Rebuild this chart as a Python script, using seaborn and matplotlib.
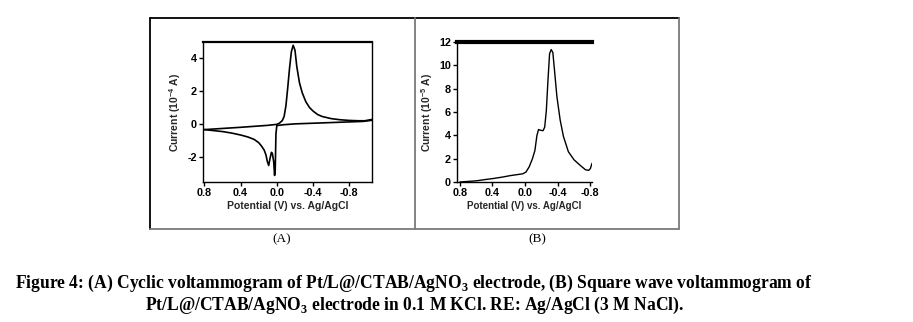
import numpy as np
import pandas as pd
import matplotlib
matplotlib.use("Agg")
import matplotlib.pyplot as plt
from matplotlib.lines import Line2D
import seaborn as sns

# ---------------- data ----------------
# (A) cyclic voltammogram: forward (anodic) sweep
cv_fwd_E = [0.80, 0.60, 0.40, 0.20, 0.10, 0.00, -0.03, -0.06, -0.08, -0.10, -0.12,
            -0.14, -0.16, -0.18, -0.20, -0.22, -0.25, -0.28, -0.32, -0.36, -0.40,
            -0.45, -0.50, -0.60, -0.70, -0.80, -0.90, -0.97, -1.05]
cv_fwd_I = [-0.35, -0.28, -0.21, -0.13, -0.09, -0.03, 0.05, 0.20, 0.45, 1.10, 2.20,
            3.40, 4.40, 4.80, 4.50, 3.50, 2.50, 1.90, 1.35, 1.00, 0.78,
            0.57, 0.45, 0.32, 0.25, 0.21, 0.19, 0.19, 0.27]
# (A) reverse (cathodic) sweep
cv_rev_E = [-1.05, -0.95, -0.80, -0.60, -0.40, -0.20, -0.08, 0.00, 0.010, 0.018,
            0.025, 0.035, 0.050, 0.060, 0.075, 0.090, 0.105, 0.12, 0.14, 0.17,
            0.20, 0.25, 0.32, 0.40, 0.50, 0.60, 0.70, 0.80]
cv_rev_I = [0.22, 0.15, 0.12, 0.08, 0.04, 0.00, -0.05, -0.10, -0.60, -2.80,
            -3.15, -2.30, -1.80, -1.74, -2.10, -2.54, -2.30, -1.90, -1.60, -1.35,
            -1.15, -0.95, -0.80, -0.68, -0.56, -0.47, -0.41, -0.35]

# (B) square wave voltammogram
swv_E = [0.80, 0.70, 0.60, 0.50, 0.39, 0.28, 0.18, 0.10, 0.03, -0.01, -0.05,
         -0.09, -0.12, -0.145, -0.165, -0.19, -0.22, -0.24, -0.26, -0.28, -0.30,
         -0.32, -0.34, -0.36, -0.39, -0.43, -0.47, -0.53, -0.60, -0.68, -0.74,
         -0.78, -0.80, -0.82]
swv_I = [0.00, 0.05, 0.10, 0.20, 0.30, 0.42, 0.55, 0.63, 0.70, 0.85, 1.30,
         2.00, 2.70, 4.00, 4.50, 4.43, 4.40, 4.70, 6.10, 8.70, 11.00,
         11.35, 11.10, 9.60, 7.30, 5.30, 3.90, 2.60, 1.90, 1.40, 1.05,
         1.00, 1.15, 1.60]

x_ticks = [0.8, 0.4, 0.0, -0.4, -0.8]
x_ticklabels = ["0.8", "0.4", "0.0", "-0.4", "-0.8"]
yA_ticks = [-2, 0, 2, 4]
yB_ticks = [0, 2, 4, 6, 8, 10, 12]

xlabel = "Potential (V) vs. Ag/AgCl"
ylabel_A = r"Current (10$^{\mathsf{-4}}$ A)"
ylabel_B = r"Current (10$^{\mathsf{-5}}$ A)"
panel_A = "(A)"
panel_B = "(B)"
caption_1 = r"Figure 4: (A) Cyclic voltammogram of Pt/L@/CTAB/AgNO$_{\mathbf{3}}$ electrode, (B) Square wave voltammogram of"
caption_2 = r"Pt/L@/CTAB/AgNO$_{\mathbf{3}}$ electrode in 0.1 M KCl. RE: Ag/AgCl (3 M NaCl)."

# ---------------- styling ----------------
sns.set_theme(style="ticks")
plt.rcParams["font.family"] = ["Liberation Sans", "DejaVu Sans"]
plt.rcParams["mathtext.fontset"] = "custom"
plt.rcParams["mathtext.rm"] = "Liberation Serif:bold"
plt.rcParams["mathtext.bf"] = "Liberation Serif:bold"
plt.rcParams["mathtext.sf"] = "Liberation Sans:bold"
plt.rcParams["axes.unicode_minus"] = False

W, H = 913, 322
fig = plt.figure(figsize=(W / 100, H / 100), dpi=100)
fig.patch.set_facecolor("white")


def px_axes(l, t, r, b):
    return fig.add_axes([l / W, 1 - b / H, (r - l) / W, (b - t) / H])


# frame (table-like box)
def fline(x0, y0, x1, y1, color, lw=1.3):
    fig.add_artist(Line2D([x0 / W, x1 / W], [1 - y0 / H, 1 - y1 / H],
                          color=color, lw=lw, transform=fig.transFigure))

fline(150, 18, 679, 18, "black")
fline(150, 18, 150, 229, "black")
fline(150, 229, 679, 229, "#7a7a7a")
fline(679, 18, 679, 229, "#7a7a7a")
fline(414.5, 18, 414.5, 229, "#7a7a7a")

tick_font = dict(family="Liberation Sans", weight="bold", size=7.8)
label_font = dict(family="Liberation Sans", weight="bold", size=7.5)

# ---------------- panel A ----------------
axA = px_axes(203, 42, 372, 182)
dfA1 = pd.DataFrame({"E": cv_fwd_E, "I": cv_fwd_I})
dfA2 = pd.DataFrame({"E": cv_rev_E, "I": cv_rev_I})
sns.lineplot(data=dfA1, x="E", y="I", sort=False, estimator=None, color="black", lw=1.2, ax=axA)
sns.lineplot(data=dfA2, x="E", y="I", sort=False, estimator=None, color="black", lw=1.2, ax=axA)
axA.set_xlim(0.815, -1.05)
axA.set_ylim(-3.55, 5.0)
axA.set_xticks(x_ticks)
axA.set_xticklabels(x_ticklabels, **tick_font)
axA.set_yticks(yA_ticks)
axA.set_yticklabels([str(v) for v in yA_ticks], **tick_font)
axA.set_xlabel(xlabel, labelpad=2, **label_font)
axA.set_ylabel(ylabel_A, labelpad=3, **label_font)
for s in axA.spines.values():
    s.set_linewidth(1.0)
    s.set_color("black")
axA.spines["top"].set_linewidth(1.6)
axA.tick_params(direction="out", length=3, width=1, pad=1.5, colors="black")

# ---------------- panel B ----------------
axB = px_axes(457, 42, 592, 182)
dfB = pd.DataFrame({"E": swv_E, "I": swv_I})
sns.lineplot(data=dfB, x="E", y="I", sort=False, estimator=None, color="black", lw=1.0, ax=axB)
axB.set_xlim(0.835, -0.82)
axB.set_ylim(0, 12)
axB.set_xticks(x_ticks)
axB.set_xticklabels(x_ticklabels, **tick_font)
axB.set_yticks(yB_ticks)
axB.set_yticklabels([str(v) for v in yB_ticks], **tick_font)
axB.set_xlabel(xlabel, labelpad=2, family="Liberation Sans", weight="bold", size=7)
axB.set_ylabel(ylabel_B, labelpad=3, **label_font)
axB.spines["right"].set_visible(False)
for k in ["left", "bottom"]:
    axB.spines[k].set_linewidth(1.0)
    axB.spines[k].set_color("black")
axB.spines["top"].set_linewidth(3.0)
axB.spines["top"].set_color("black")
axB.tick_params(direction="out", length=3, width=1, pad=1.5, colors="black")

# panel labels
fig.text(282 / W, 1 - 239 / H, panel_A, ha="center", va="center",
         family="Liberation Serif", size=9.5, color="black")
fig.text(537 / W, 1 - 239 / H, panel_B, ha="center", va="center",
         family="Liberation Serif", size=9.5, color="black")

# caption
cap_font = dict(family="Liberation Serif", weight="bold", color="black")
t1 = fig.text(15 / W, 1 - 288 / H, caption_1, ha="left", va="baseline", size=12, **cap_font)
t2 = fig.text(145 / W, 1 - 310 / H, caption_2, ha="left", va="baseline", size=12, **cap_font)
fig.canvas.draw()
r = fig.canvas.get_renderer()
w1 = t1.get_window_extent(r).width
t1.set_fontsize(12 * 798 / w1)
w2 = t2.get_window_extent(r).width
t2.set_fontsize(12 * 540 / w2)

fig.savefig("out.png", dpi=100, facecolor="white")
